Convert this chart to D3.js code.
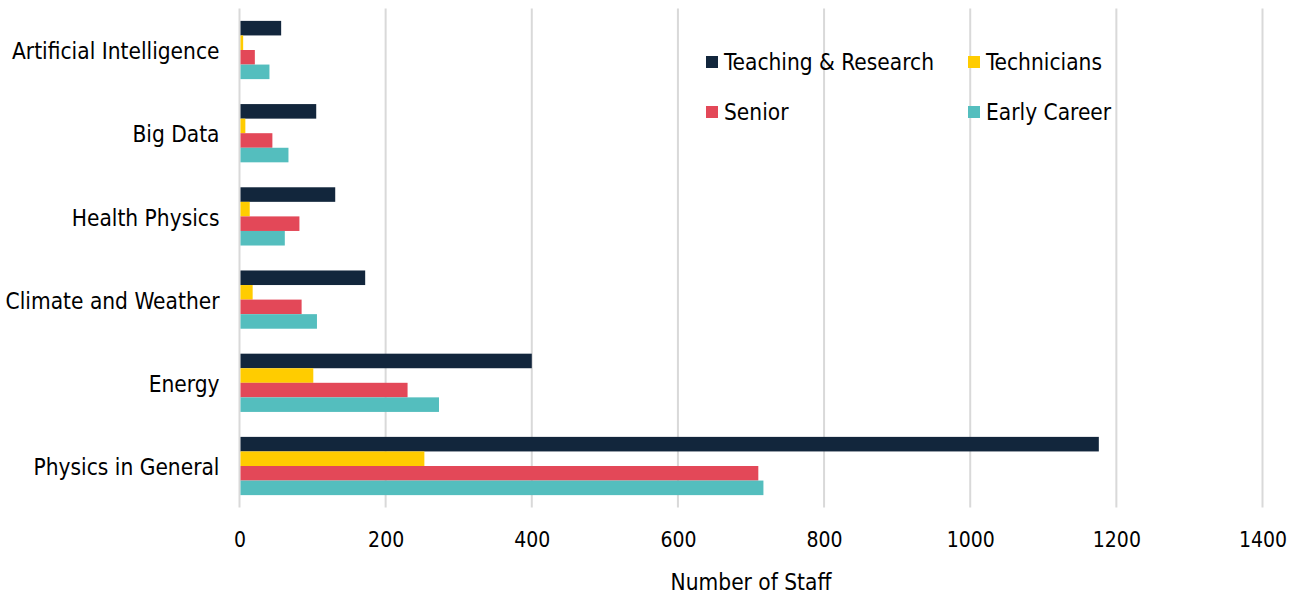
<!DOCTYPE html>
<html><head><meta charset="utf-8">
<script src="https://cdn.jsdelivr.net/npm/d3@7"></script>
<style>body{margin:0;background:#fff}svg text{font-family:"DejaVu Sans Condensed","DejaVu Sans",sans-serif;fill:#000}</style>
</head><body><svg id="c" width="1300" height="595"></svg>
<script>
const categories = ["Artificial Intelligence","Big Data","Health Physics","Climate and Weather","Energy","Physics in General"];
const seriesNames = ["Teaching & Research","Technicians","Senior","Early Career"];
const teachingResearch = [57,105,131,172,400,1176];
const technicians = [5,8,14,18,101,253];
const senior = [21,45,82,85,230,710];
const earlyCareer = [41,67,62,106,273,717];
const xTicks = [0,200,400,600,800,1000,1200,1400];
const colors = ["#12263c","#ffcc00","#e34858","#54bebe"];
const xTitle = "Number of Staff";

(function(){
const values = [teachingResearch, technicians, senior, earlyCareer];
const svg = d3.select("#c");
const pL = 239.5, pR = 1262.5, pT = 8.4, pB = 507.6;
const x = d3.scaleLinear().domain([0,1400]).range([pL,pR]);
const y = d3.scaleBand().domain(categories).range([pT,pB]).paddingInner(0.3).paddingOuter(0.15);
const ys = d3.scaleBand().domain(seriesNames).range([0,y.bandwidth()]);

svg.append("g").selectAll("line").data(xTicks).join("line")
  .attr("x1",d=>x(d)).attr("x2",d=>x(d)).attr("y1",pT).attr("y2",pB)
  .attr("stroke","#d9d9d9").attr("stroke-width",2);

const g = svg.append("g");
categories.forEach((c,i)=>{
  seriesNames.forEach((s,j)=>{
    g.append("rect").attr("x",x(0)+1).attr("y",y(c)+ys(s))
      .attr("width",Math.max(0,x(values[j][i])-x(0)-1)).attr("height",ys.bandwidth())
      .attr("fill",colors[j]);
  });
});

const xa = svg.append("g").attr("transform",`translate(0,${pB})`)
  .call(d3.axisBottom(x).tickValues(xTicks).tickSize(0).tickPadding(24).tickFormat(d3.format("d")));
xa.select(".domain").remove();
xa.selectAll("text").attr("font-size",21).style("font-family",'"DejaVu Sans Condensed",sans-serif');

const ya = svg.append("g").attr("transform",`translate(${pL-20},2)`)
  .call(d3.axisLeft(y).tickSize(0).tickPadding(0));
ya.select(".domain").remove();
ya.selectAll("text").attr("font-size",22.5).style("font-family",'"DejaVu Sans Condensed",sans-serif');

svg.append("text").attr("x",751).attr("y",590).attr("text-anchor","middle")
  .attr("font-size",22.5).text(xTitle);

const legPos = [[706,62],[968,62],[706,112],[968,112]];
const lg = svg.append("g");
seriesNames.forEach((s,j)=>{
  const [lx,ly] = legPos[j];
  lg.append("rect").attr("x",lx).attr("y",ly-6).attr("width",12).attr("height",12).attr("fill",colors[j]);
  lg.append("text").attr("x",lx+18).attr("y",ly).attr("dy","0.35em").attr("font-size",22.5).text(s);
});
})();
</script></body></html>
